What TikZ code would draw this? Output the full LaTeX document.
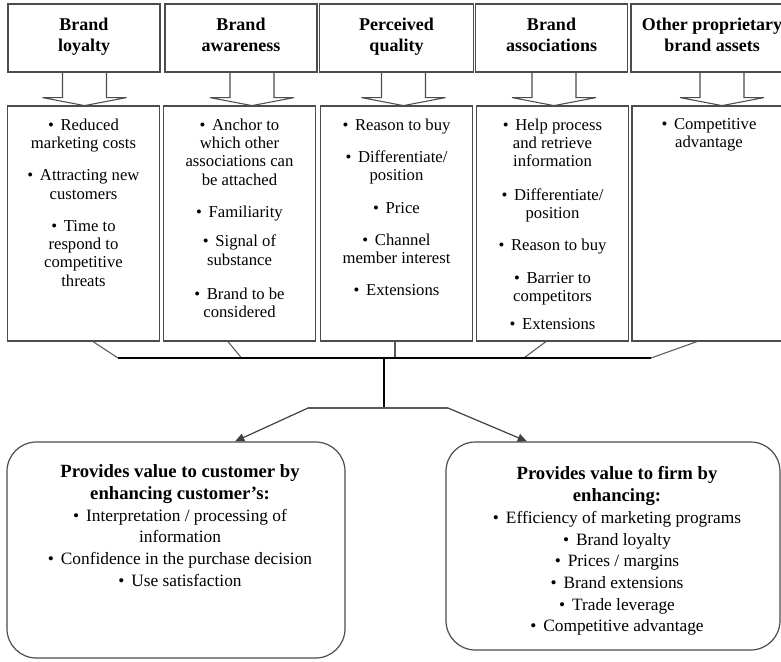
\documentclass[tikz,border=0pt]{standalone}
\usepackage{fontspec}
\setmainfont{Liberation Serif}
\usetikzlibrary{arrows.meta,calc}

\tikzset{
  titlebox/.style={draw=black!70, line width=0.9pt, minimum width=114pt, minimum height=51pt,
    inner sep=0pt, align=center, font=\bfseries\fontsize{13.5}{15.75}\selectfont,
    execute at begin node=\strut, execute at end node=\strut},
  listbox/.style={draw=black!70, line width=0.9pt, minimum width=114pt, minimum height=176.25pt, inner sep=0pt},
  listtext/.style={anchor=north, inner sep=0pt, align=center, font=\fontsize{12.5}{13.7}\selectfont},
  valuebox/.style={draw=black!70, line width=0.9pt, rounded corners=22pt, inner sep=0pt},
  valuetext/.style={anchor=north, inner sep=0pt, align=center, font=\fontsize{13}{16.3}\selectfont},
  hollow/.style={draw=black!70, line width=0.8pt},
  stub/.style={draw=black!65, line width=0.8pt},
  bus/.style={draw=black, line width=1.5pt},
  forkarrow/.style={draw=black!75, line width=0.9pt, -{Triangle[length=7pt,width=6pt]}}
}
\newcommand{\bul}{\textbullet\hspace{0.4em}}
\newcommand{\vtitle}[1]{{\bfseries\fontsize{14}{16.3}\selectfont #1}}

\begin{document}
\begin{tikzpicture}[x=0.75pt,y=-0.75pt]
\useasboundingbox (0,0) rectangle (781,661);
\clip (0,0) rectangle (781,661);

% Drawing the five title boxes
\node[titlebox] (loyalty) at (84,38) {Brand\\loyalty};
\node[titlebox] (awareness) at (241,38) {Brand\\awareness};
\node[titlebox, minimum width=115pt] (quality) at (396.5,38) {Perceived\\quality};
\node[titlebox] (assoc) at (551.5,38) {Brand\\associations};
\node[titlebox, minimum width=121.5pt] (other) at (712,38) {Other proprietary\\brand assets};

% Drawing the five list boxes
\node[listbox] (loyaltylist) at (83.5,223.5) {};
\node[listbox] (awarenesslist) at (239.5,223.5) {};
\node[listbox] (qualitylist) at (396.5,223.5) {};
\node[listbox] (assoclist) at (552.5,223.5) {};
\node[listbox, minimum width=115.5pt] (otherlist) at (709,223.5) {};

% Marking the list texts
\node[listtext] (loyaltytext) at ($(loyaltylist.north)+(0,13)$)
  {\bul Reduced\\marketing costs\\[10.5pt]\bul Attracting new\\customers\\[10.5pt]\bul Time to\\respond to\\competitive\\threats};
\node[listtext] (awarenesstext) at ($(awarenesslist.north)+(0,13)$)
  {\bul Anchor to\\which other\\associations can\\be attached\\[10.5pt]\bul Familiarity\\[8.5pt]\bul Signal of\\substance\\[12pt]\bul Brand to be\\considered};
\node[listtext] (qualitytext) at ($(qualitylist.north)+(0,13)$)
  {\bul Reason to buy\\[10.5pt]\bul Differentiate/\\position\\[10.5pt]\bul Price\\[10.5pt]\bul Channel\\member interest\\[10.5pt]\bul Extensions};
\node[listtext] (assoctext) at ($(assoclist.north)+(0,13)$)
  {\bul Help process\\and retrieve\\information\\[11.5pt]\bul Differentiate/\\position\\[10.5pt]\bul Reason to buy\\[10.5pt]\bul Barrier to\\competitors\\[7pt]\bul Extensions};
\node[listtext] (othertext) at ($(otherlist.north)+(0,13)$)
  {\bul Competitive\\advantage};

% Drawing the hollow arrows from title to list
\foreach \src/\dx in {loyalty/0.5, awareness/11, quality/7, assoc/2.5, other/10}
  \draw[hollow] ($(\src.south)+(\dx-22,0)$) -- ++(0,25) -- ++(-20,0)
    -- ($(\src.south)+(\dx,33)$) -- ($(\src.south)+(\dx+42,25)$) -- ++(-20,0) -- ++(0,-25);

% Marking the bus points
\coordinate (buswest) at (118,358);
\coordinate (buseast) at (651,358);
\coordinate (junction) at (384,358);
\coordinate (fork) at (384,408);
\coordinate (forkleft) at (308,408);
\coordinate (forkright) at (448,408);

% Drawing the stubs into the bus
\draw[stub] ($(loyaltylist.south)+(9.5,0)$) -- (buswest);
\draw[stub] ($(awarenesslist.south)+(-11.5,0)$) -- ($(awarenesslist.south)+(2.5,17)$);
\draw[stub] ($(qualitylist.south)+(-1.5,0)$) -- ($(qualitylist.south)+(-1.5,17)$);
\draw[stub] ($(assoclist.south)+(-6.5,0)$) -- ($(assoclist.south)+(-29.5,17)$);
\draw[stub] ($(otherlist.south)+(-12,0)$) -- (buseast);
\draw[bus] (buswest) -- (buseast);
\draw[line width=2.2pt] (junction) -- (fork);
\draw[stub, line width=1pt] (forkleft) -- (forkright);

% Drawing the two value boxes
\node[valuebox, minimum width=253.5pt, minimum height=162pt] (custbox) at (176,550) {};
\node[valuebox, minimum width=250.5pt, minimum height=156pt] (firmbox) at (613,546) {};

% Drawing the fork arrows
\draw[forkarrow] (forkleft) -- ($(custbox.north)+(59,0)$);
\draw[forkarrow] (forkright) -- ($(firmbox.north)+(-86,0)$);

% Marking the value texts
\node[valuetext] (custtext) at ($(custbox.north)+(4,23)$)
  {\vtitle{Provides value to customer by}\\\vtitle{enhancing customer’s:}\\
   \bul Interpretation / processing of\\information\\
   \bul Confidence in the purchase decision\\\bul Use satisfaction};
\node[valuetext] (firmtext) at ($(firmbox.north)+(4,25)$)
  {\vtitle{Provides value to firm by}\\\vtitle{enhancing:}\\
   \bul Efficiency of marketing programs\\\bul Brand loyalty\\\bul Prices / margins\\
   \bul Brand extensions\\\bul Trade leverage\\\bul Competitive advantage};
\end{tikzpicture}
\end{document}
